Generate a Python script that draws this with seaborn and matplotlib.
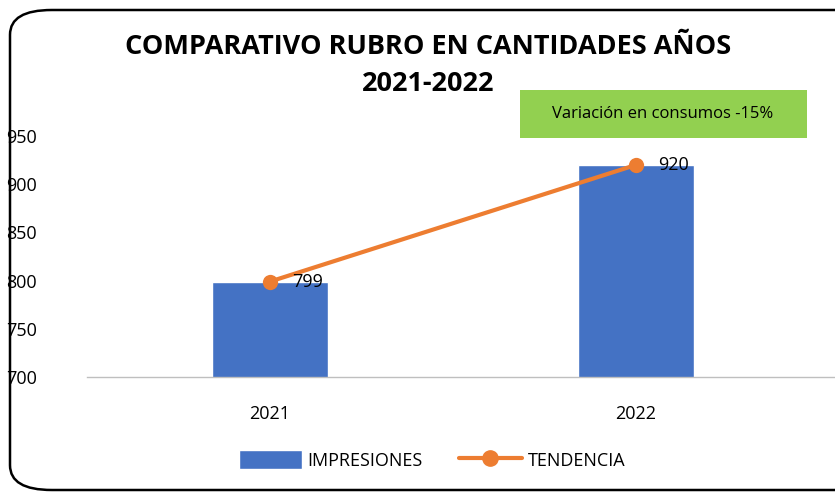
import numpy as np
import pandas as pd
import seaborn as sns
import matplotlib.pyplot as plt
from matplotlib.patches import FancyBboxPatch, Rectangle
from matplotlib.lines import Line2D
from matplotlib.patches import Patch

# values
years = ["2021", "2022"]
impresiones = [799, 920]
tendencia = [799, 920]
y_ticks = [700, 750, 800, 850, 900, 950]

sns.set_theme(style="white")
plt.rcParams["font.family"] = ["Open Sans", "DejaVu Sans"]
plt.rcParams["text.color"] = "black"
plt.rcParams["xtick.color"] = "black"
plt.rcParams["ytick.color"] = "black"

df = pd.DataFrame({"year": years, "impresiones": impresiones, "tendencia": tendencia})

fig = plt.figure(figsize=(8.35, 4.95), dpi=100)
ax = fig.add_axes([87 / 835, 1 - 377 / 495, 748 / 835, (377 - 136) / 495])

sns.barplot(data=df, x="year", y="impresiones", color="#4472C4", width=0.317,
            saturation=1, ax=ax)
sns.lineplot(data=df, x="year", y="tendencia", color="#ED7D31", linewidth=3,
             marker="o", markersize=11, markeredgewidth=0, ax=ax)

for i, v in enumerate(tendencia):
    ax.text(i + 0.06, v, str(v), fontsize=13, va="center", ha="left", color="black")

ax.set_ylim(700, 950)
ax.set_xlim(-0.5, -0.5 + 748 / 366)
ax.set_yticks(y_ticks)
ax.tick_params(axis="y", labelsize=13, pad=36, length=0)
ax.tick_params(axis="x", labelsize=13, pad=20, length=0)
ax.set_xlabel("")
ax.set_ylabel("")
for s in ["top", "right", "left"]:
    ax.spines[s].set_visible(False)
ax.spines["bottom"].set_color("#bfbfbf")
ax.spines["bottom"].set_linewidth(1)

fig.text(0.513, 1 - 47 / 495, "COMPARATIVO RUBRO EN CANTIDADES AÑOS", ha="center",
         va="center", fontsize=19.5, fontweight="bold")
fig.text(0.513, 1 - 84 / 495, "2021-2022", ha="center", va="center",
         fontsize=19.5, fontweight="bold")

# green annotation box
fig.patches.append(Rectangle((520 / 835, 1 - 138 / 495), 287 / 835, 48 / 495,
                             transform=fig.transFigure, facecolor="#92D050",
                             edgecolor="none", zorder=5))
fig.text(663 / 835, 1 - 114 / 495, "Variación en consumos -15%", ha="center",
         va="center", fontsize=12, zorder=6)

# outer rounded frame
fig.patches.append(FancyBboxPatch((10 / 835, 5 / 495), 1.2, 480 / 495,
                                  boxstyle="round,pad=0,rounding_size=0.05",
                                  transform=fig.transFigure, facecolor="none",
                                  edgecolor="black", linewidth=1.8, clip_on=False))

handles = [Patch(facecolor="#4472C4", label="IMPRESIONES"),
           Line2D([0], [0], color="#ED7D31", lw=3, marker="o", markersize=11,
                  label="TENDENCIA")]
fig.legend(handles=handles, loc="center", bbox_to_anchor=(432 / 835, 1 - 460 / 495),
           ncol=2, frameon=False, fontsize=13, handlelength=3.5, handleheight=1.2,
           columnspacing=2, handletextpad=0.3)

fig.savefig("out.png", dpi=100)
